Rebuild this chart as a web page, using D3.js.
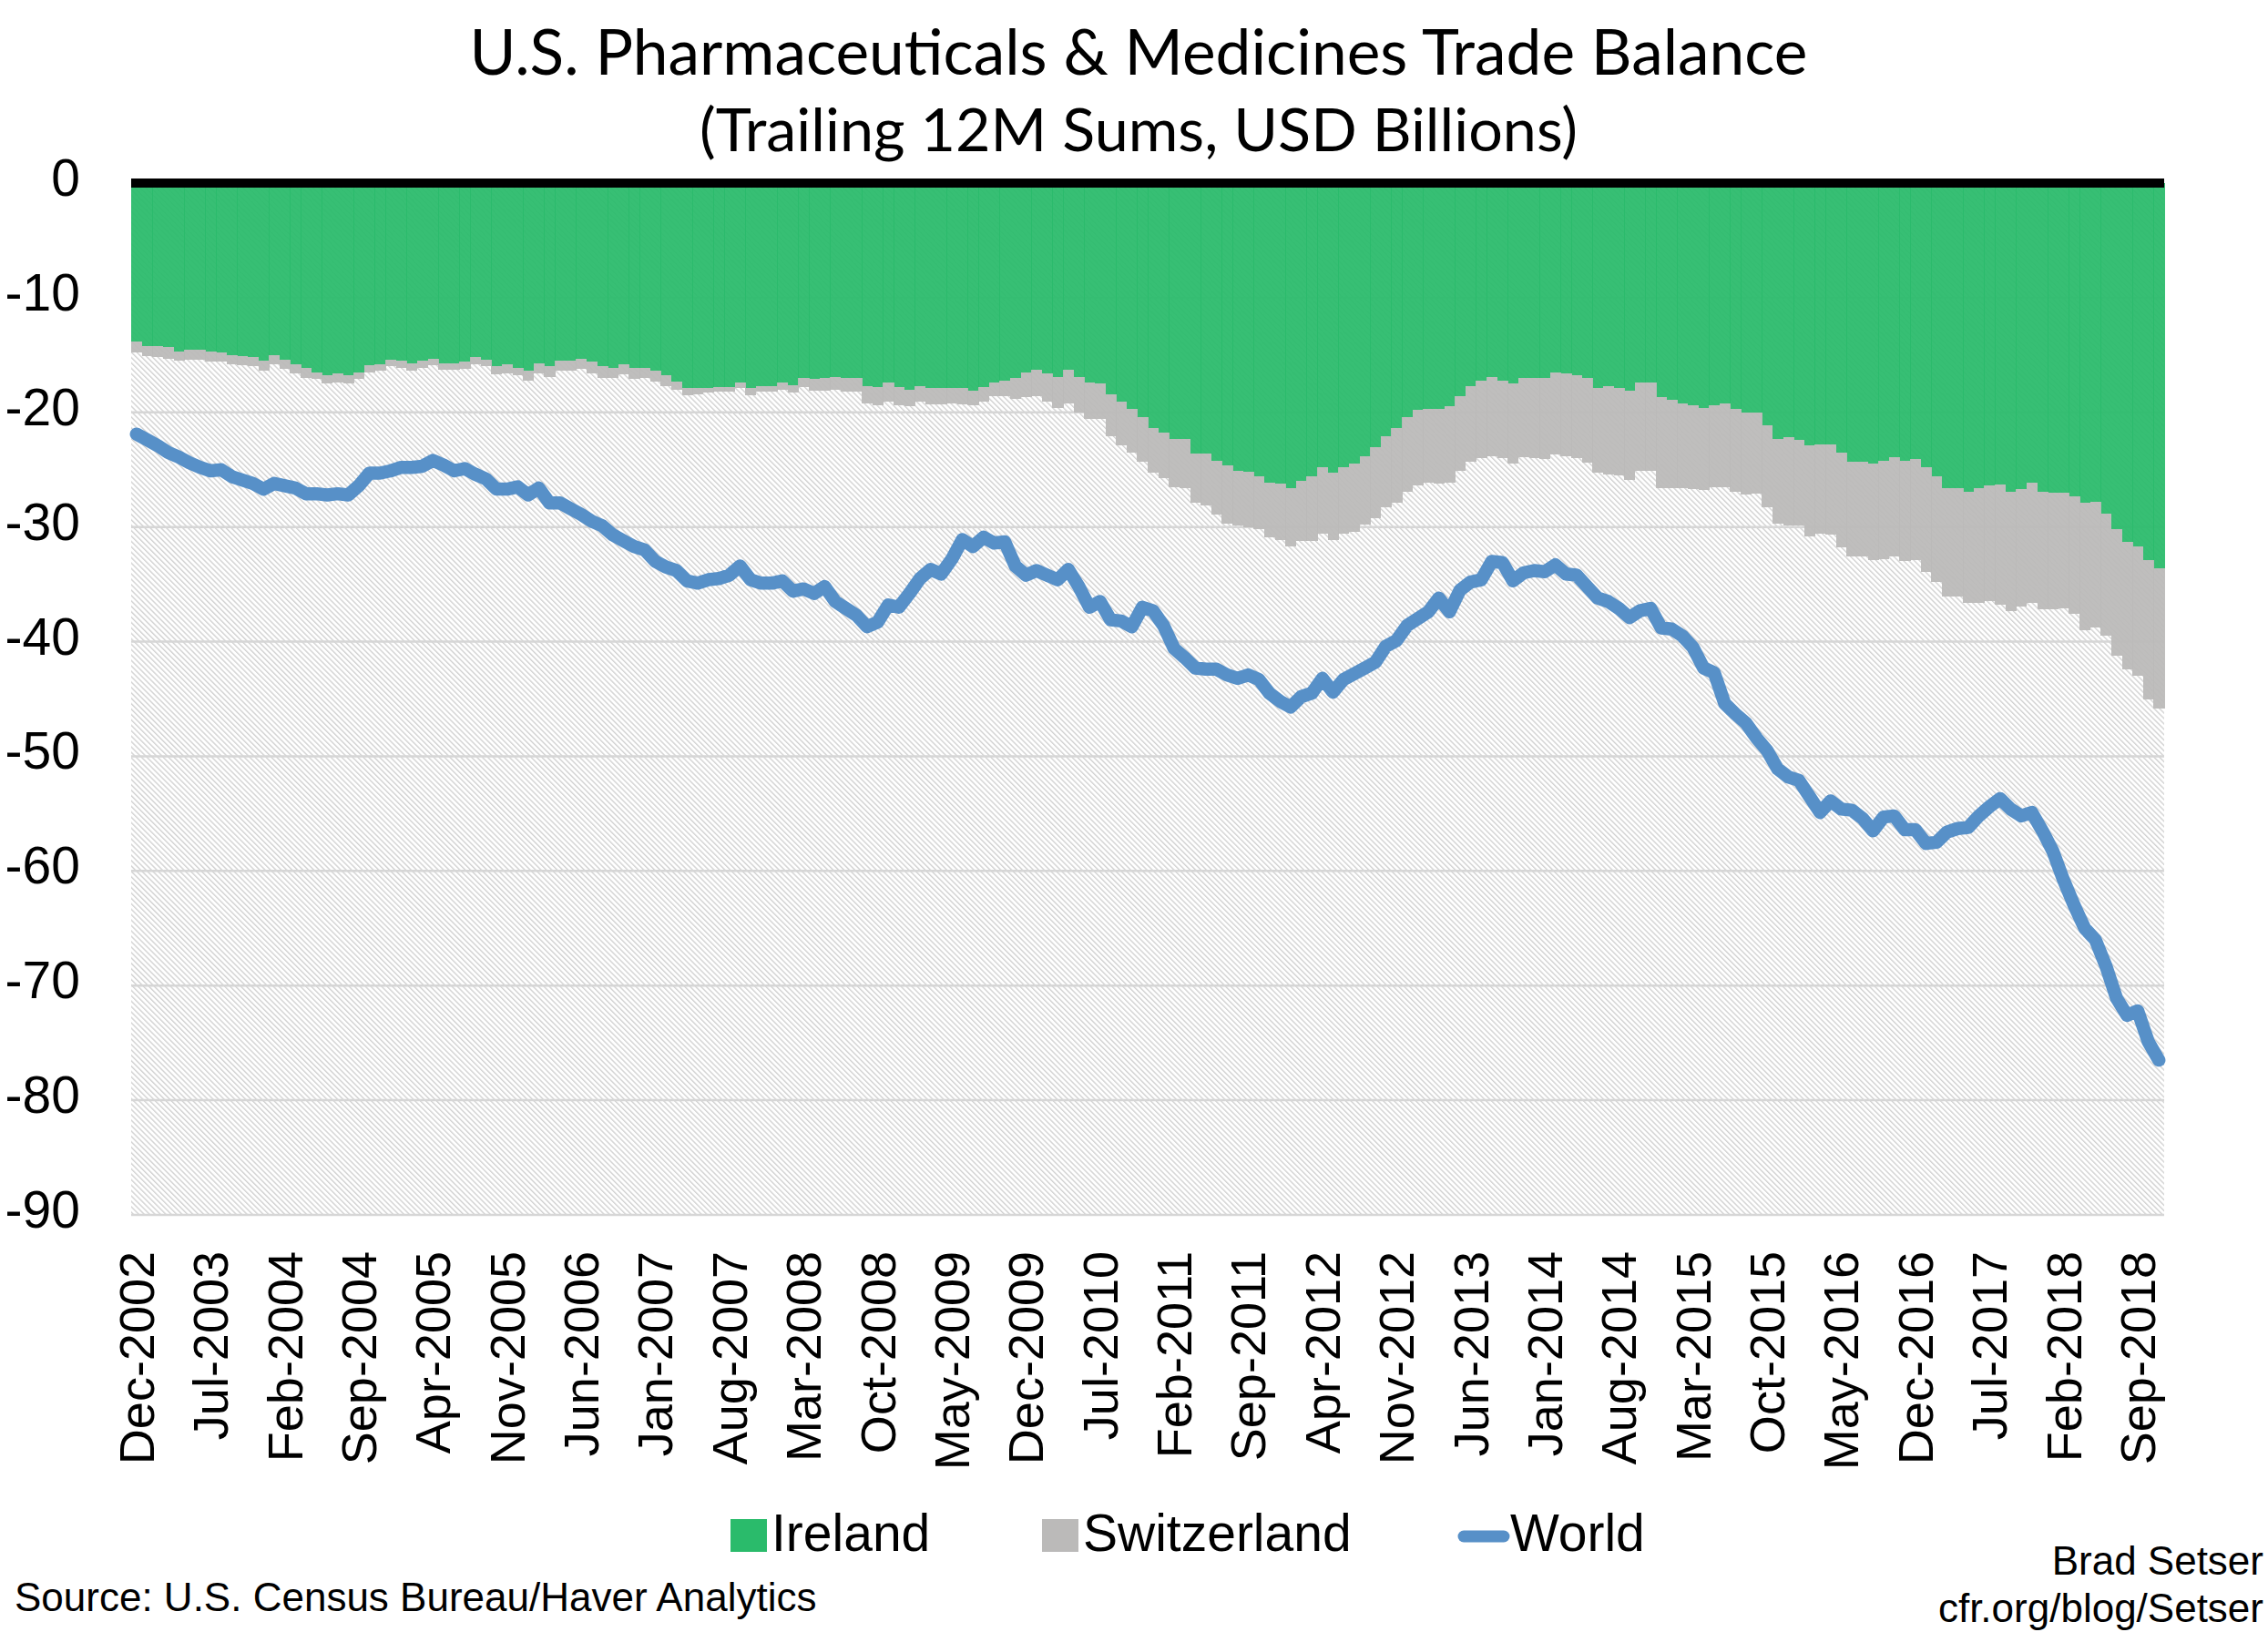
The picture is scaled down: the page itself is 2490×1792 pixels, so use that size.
<!DOCTYPE html>
<html>
<head>
<meta charset="utf-8">
<script src="https://cdn.jsdelivr.net/npm/d3@7"></script>
<style>
  body { margin: 0; background: #fff; }
  svg { display: block; }
  text { font-family: "Liberation Sans", Arial, sans-serif; fill: #000; }
</style>
</head>
<body>
<svg id="chart" width="2490" height="1792"></svg>
<script>
// months: Dec-2002 .. Nov-2018
const months = d3.timeMonth.range(new Date(2002, 11, 1), new Date(2018, 11, 1));

const ireland = [
  -13.8,-14.2,-14.2,-14.3,-14.7,-14.5,-14.5,-14.7,-14.8,-15.0,
  -15.1,-15.2,-15.5,-15.0,-15.4,-15.8,-16.1,-16.5,-16.8,-16.6,
  -16.8,-16.5,-15.9,-15.8,-15.4,-15.5,-15.7,-15.5,-15.3,-15.7,
  -15.7,-15.6,-15.2,-15.4,-16.0,-15.8,-16.1,-16.4,-15.7,-16.0,
  -15.5,-15.5,-15.3,-15.6,-16.0,-16.1,-15.8,-16.1,-16.1,-16.4,
  -16.8,-17.3,-17.9,-17.9,-17.9,-17.8,-17.8,-17.4,-17.9,-17.7,
  -17.7,-17.4,-17.6,-17.0,-17.1,-17.0,-16.9,-17.0,-17.0,-17.7,
  -17.8,-17.4,-17.8,-18.0,-17.7,-17.9,-17.9,-17.9,-17.9,-18.1,
  -17.8,-17.4,-17.2,-17.0,-16.5,-16.3,-16.6,-16.9,-16.3,-16.9,
  -17.4,-17.5,-18.4,-19.1,-19.7,-20.4,-21.4,-21.8,-22.3,-22.3,
  -23.6,-23.6,-24.2,-24.6,-25.1,-25.2,-25.6,-26.1,-26.2,-26.6,
  -26.0,-25.6,-24.8,-25.3,-24.8,-24.5,-23.8,-23.0,-22.1,-21.4,
  -20.4,-19.8,-19.7,-19.7,-19.5,-18.6,-17.7,-17.2,-16.9,-17.2,
  -17.5,-17.0,-17.0,-17.0,-16.5,-16.6,-16.8,-17.0,-17.9,-17.7,
  -17.9,-18.1,-17.4,-17.4,-18.7,-18.9,-19.2,-19.4,-19.6,-19.4,
  -19.2,-19.7,-20.0,-20.0,-21.1,-22.3,-22.2,-22.4,-22.9,-22.8,
  -22.8,-23.5,-24.3,-24.3,-24.5,-24.2,-23.9,-24.2,-24.1,-24.8,
  -25.6,-26.6,-26.6,-26.9,-26.6,-26.4,-26.3,-26.9,-26.7,-26.1,
  -26.9,-27.0,-27.0,-27.3,-27.9,-27.8,-28.8,-30.2,-31.3,-31.7,
  -32.9,-33.6
];

const switzerland = [
  -1.0,-0.9,-1.0,-1.0,-0.8,-0.9,-0.9,-0.9,-0.8,-0.8,
  -0.8,-0.8,-0.9,-0.8,-0.8,-0.8,-0.9,-0.6,-0.7,-0.8,
  -0.7,-0.6,-0.6,-0.6,-0.6,-0.6,-0.7,-0.6,-0.6,-0.6,
  -0.6,-0.6,-0.6,-0.6,-0.7,-0.8,-0.7,-0.8,-0.9,-0.9,
  -0.9,-0.9,-0.9,-1.0,-1.0,-0.9,-0.9,-1.0,-0.9,-0.9,
  -0.9,-0.7,-0.6,-0.5,-0.4,-0.4,-0.4,-0.5,-0.6,-0.5,
  -0.5,-0.6,-0.7,-0.8,-1.0,-1.1,-1.1,-1.2,-1.2,-1.5,
  -1.6,-1.7,-1.6,-1.5,-1.4,-1.4,-1.4,-1.3,-1.4,-1.3,
  -1.3,-1.2,-1.4,-1.8,-2.2,-2.3,-2.5,-2.7,-2.9,-3.1,
  -3.2,-3.1,-3.7,-3.8,-3.8,-3.9,-3.9,-3.9,-4.2,-4.3,
  -4.3,-4.5,-4.7,-5.1,-4.8,-4.8,-4.6,-4.8,-4.9,-5.1,
  -5.2,-5.6,-5.8,-5.8,-5.8,-5.9,-6.0,-6.2,-6.2,-6.5,
  -6.5,-6.6,-6.4,-6.5,-6.6,-6.5,-6.6,-6.8,-6.9,-6.8,
  -7.0,-6.9,-7.0,-7.1,-7.2,-7.2,-7.2,-7.4,-7.4,-7.7,
  -7.6,-7.8,-7.7,-7.7,-7.9,-7.7,-7.4,-7.3,-7.2,-7.1,
  -7.3,-7.2,-7.2,-7.1,-7.2,-7.4,-7.7,-7.5,-7.9,-7.8,
  -7.9,-8.3,-8.3,-8.3,-8.4,-8.6,-8.7,-8.8,-8.8,-9.1,
  -9.2,-9.5,-9.5,-9.7,-10.0,-10.1,-10.5,-10.4,-10.2,-10.5,
  -10.3,-10.2,-10.1,-10.3,-11.1,-11.0,-10.7,-11.0,-11.1,-11.3,
  -12.1,-12.2
];

const world = [
  -21.9,-22.4,-22.9,-23.5,-23.9,-24.4,-24.8,-25.1,-25.0,-25.6,
  -25.9,-26.2,-26.7,-26.2,-26.4,-26.6,-27.1,-27.1,-27.2,-27.1,
  -27.2,-26.4,-25.3,-25.3,-25.1,-24.8,-24.8,-24.7,-24.2,-24.6,
  -25.1,-24.9,-25.4,-25.8,-26.7,-26.7,-26.5,-27.2,-26.6,-27.9,
  -27.9,-28.4,-28.9,-29.5,-29.9,-30.7,-31.2,-31.7,-32.0,-33.0,
  -33.5,-33.8,-34.7,-34.9,-34.6,-34.5,-34.2,-33.4,-34.6,-34.9,
  -34.9,-34.7,-35.6,-35.4,-35.8,-35.2,-36.5,-37.1,-37.7,-38.7,
  -38.3,-36.8,-37.0,-35.8,-34.5,-33.7,-34.1,-32.8,-31.1,-31.7,
  -30.9,-31.4,-31.3,-33.4,-34.2,-33.8,-34.2,-34.6,-33.7,-35.2,
  -37.0,-36.5,-38.1,-38.2,-38.7,-37.0,-37.3,-38.6,-40.6,-41.4,
  -42.3,-42.4,-42.4,-42.9,-43.2,-42.9,-43.3,-44.5,-45.2,-45.7,
  -44.8,-44.5,-43.2,-44.4,-43.3,-42.8,-42.3,-41.8,-40.4,-39.9,
  -38.6,-38.0,-37.4,-36.2,-37.4,-35.5,-34.8,-34.6,-33.0,-33.1,
  -34.7,-34.0,-33.8,-33.9,-33.3,-34.1,-34.2,-35.2,-36.2,-36.5,
  -37.1,-37.9,-37.3,-37.1,-38.8,-38.9,-39.5,-40.5,-42.3,-42.7,
  -45.4,-46.3,-47.1,-48.4,-49.5,-51.1,-51.8,-52.1,-53.5,-54.9,
  -53.9,-54.6,-54.7,-55.4,-56.5,-55.3,-55.2,-56.4,-56.4,-57.6,
  -57.5,-56.6,-56.3,-56.2,-55.2,-54.4,-53.7,-54.6,-55.2,-54.9,
  -56.5,-58.3,-60.8,-63.0,-65.0,-66.0,-68.3,-71.1,-72.6,-72.2,
  -74.9,-76.5
];

const yTicks = [0, -10, -20, -30, -40, -50, -60, -70, -80, -90];
const labelEvery = 7;

const titleLines = [
  'U.S. Pharmaceuticals & Medicines Trade Balance',
  '(Trailing 12M Sums, USD Billions)'
];
const legendItems = ['Ireland', 'Switzerland', 'World'];
const sourceText = 'Source: U.S. Census Bureau/Haver Analytics';
const creditLines = ['Brad Setser', 'cfr.org/blog/Setser'];

const colors = {
  Ireland: '#2abb6b',
  Switzerland: '#bbbab9',
  World: '#5790c8'
};

const svg = d3.select('#chart');
const plot = {left: 144, right: 2376, top: 201, bottom: 1334};
const fmt = d3.timeFormat('%b-%Y');

const x = d3.scaleBand()
    .domain(d3.range(months.length))
    .range([plot.left, plot.right])
    .padding(0);

const y = d3.scaleLinear()
    .domain([0, -90])
    .range([plot.top, plot.bottom]);

// hatch background
const defs = svg.append('defs');
const pat = defs.append('pattern')
    .attr('id', 'hatch')
    .attr('patternUnits', 'userSpaceOnUse')
    .attr('width', 4.2)
    .attr('height', 4.2)
    .attr('patternTransform', 'rotate(-45)');
pat.append('rect').attr('width', 4.2).attr('height', 4.2).attr('fill', '#fff');
pat.append('rect').attr('width', 1.4).attr('height', 4.2).attr('fill', '#d2d2d2');

svg.append('rect')
    .attr('x', plot.left)
    .attr('y', plot.top)
    .attr('width', plot.right - plot.left)
    .attr('height', plot.bottom - plot.top)
    .attr('fill', 'url(#hatch)');

// gridlines (under the semi-transparent columns)
svg.append('g')
  .selectAll('line')
  .data(yTicks.filter(t => t !== 0))
  .join('line')
    .attr('x1', plot.left)
    .attr('x2', plot.right)
    .attr('y1', d => y(d))
    .attr('y2', d => y(d))
    .attr('stroke', '#d6d6d6')
    .attr('stroke-width', 2.5);

const stacked = months.map((m, i) => ({
  i,
  ire: ireland[i],
  swi: ireland[i] + switzerland[i]
}));

svg.append('g')
  .selectAll('rect')
  .data(stacked)
  .join('rect')
    .attr('x', d => x(d.i))
    .attr('width', x.bandwidth() + 0.6)
    .attr('y', y(0))
    .attr('height', d => y(d.ire) - y(0))
    .attr('fill', colors.Ireland)
    .attr('fill-opacity', 0.94)
    .attr('shape-rendering', 'crispEdges');

svg.append('g')
  .selectAll('rect')
  .data(stacked)
  .join('rect')
    .attr('x', d => x(d.i))
    .attr('width', x.bandwidth() + 0.6)
    .attr('y', d => y(d.ire))
    .attr('height', d => y(d.swi) - y(d.ire))
    .attr('fill', colors.Switzerland)
    .attr('fill-opacity', 0.94)
    .attr('shape-rendering', 'crispEdges');

// y labels
svg.append('g')
  .selectAll('text')
  .data(yTicks)
  .join('text')
    .attr('x', 88)
    .attr('y', d => y(d) + 14)
    .attr('text-anchor', 'end')
    .attr('font-size', 57)
    .text(d => d);

// x labels
svg.append('g')
  .selectAll('text')
  .data(months.map((m, i) => i).filter(i => i % labelEvery === 0))
  .join('text')
    .attr('transform', i => `translate(${x(i) + x.bandwidth() / 2 + 19},1374) rotate(-90)`)
    .attr('text-anchor', 'end')
    .attr('font-size', 54)
    .text(i => fmt(months[i]));

// world line
const line = d3.line()
    .x((d, i) => x(i) + x.bandwidth() / 2)
    .y(d => y(d));

svg.append('path')
    .datum(world)
    .attr('d', line)
    .attr('fill', 'none')
    .attr('stroke', colors.World)
    .attr('stroke-width', 14.5)
    .attr('stroke-linejoin', 'round')
    .attr('stroke-linecap', 'round');

// zero line
svg.append('line')
    .attr('x1', plot.left)
    .attr('x2', plot.right)
    .attr('y1', y(0))
    .attr('y2', y(0))
    .attr('stroke', '#000')
    .attr('stroke-width', 10);

// title
const titleSizes = [
  {y: 82, width: 1469},
  {y: 166, width: 964}
];
svg.append('g')
  .selectAll('text')
  .data(titleLines)
  .join('text')
    .attr('x', 1250)
    .attr('y', (d, i) => titleSizes[i].y)
    .attr('text-anchor', 'middle')
    .style('font-family', 'Lato, "Liberation Sans", sans-serif')
    .attr('font-size', 70)
    .text(d => d)
    .each(function(d, i) {
      const w = this.getComputedTextLength();
      const size = 70 * titleSizes[i].width / w;
      d3.select(this).attr('font-size', size);
    });

// legend
const legendPos = [
  {sx: 802, tx: 847},
  {sx: 1144, tx: 1189},
  {sx: 1601, tx: 1658}
];
const legend = svg.append('g');
legendItems.forEach((name, i) => {
  const p = legendPos[i];
  if (name === 'World') {
    legend.append('line')
        .attr('x1', p.sx + 6)
        .attr('x2', p.sx + 50)
        .attr('y1', 1687)
        .attr('y2', 1687)
        .attr('stroke', colors.World)
        .attr('stroke-width', 13)
        .attr('stroke-linecap', 'round');
  } else {
    legend.append('rect')
        .attr('x', p.sx)
        .attr('y', 1668)
        .attr('width', 40)
        .attr('height', 36)
        .attr('fill', colors[name]);
  }
  legend.append('text')
      .attr('x', p.tx)
      .attr('y', 1703)
      .attr('font-size', 57)
      .text(name);
});

// source and credit
svg.append('text')
    .attr('x', 16)
    .attr('y', 1769)
    .attr('font-size', 44)
    .text(sourceText);

svg.append('g')
  .selectAll('text')
  .data(creditLines)
  .join('text')
    .attr('x', 2485)
    .attr('y', (d, i) => 1729 + i * 52)
    .attr('text-anchor', 'end')
    .attr('font-size', 44)
    .text(d => d);
</script>
</body>
</html>
